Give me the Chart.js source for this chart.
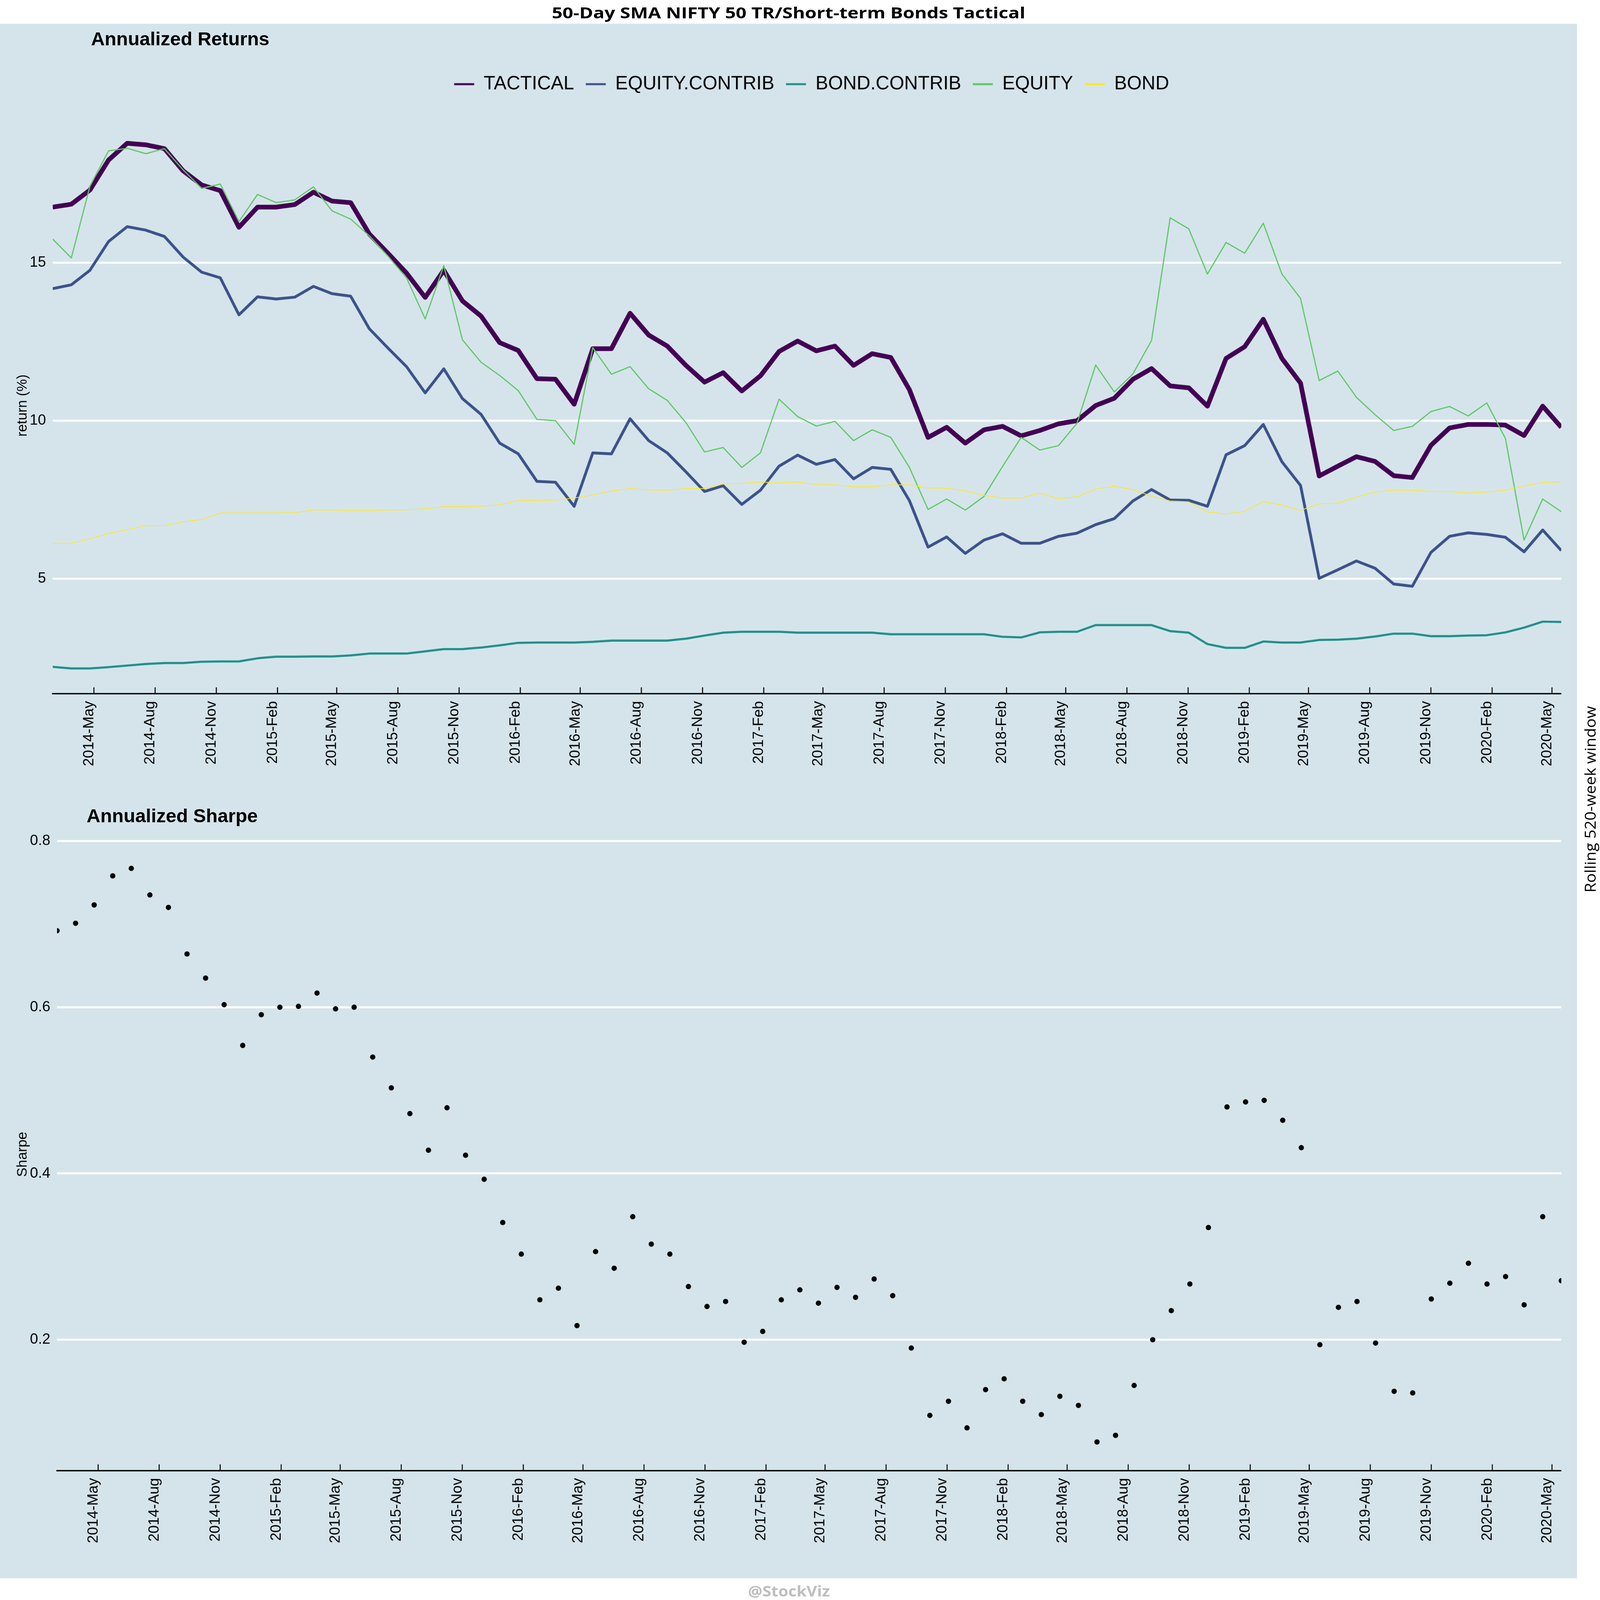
<!DOCTYPE html>
<html>
<head>
<meta charset="utf-8">
<title>50-Day SMA NIFTY 50 TR/Short-term Bonds Tactical</title>
<script src="https://cdn.jsdelivr.net/npm/chart.js@4.4.1/dist/chart.umd.min.js"></script>
<style>
  html, body { margin: 0; padding: 0; background: #fff; overflow: hidden; }
  #root { position: absolute; left: 0; top: 0; width: 4800px; height: 4800px; transform-origin: 0 0; font-family: "Liberation Sans", Arial, sans-serif; }
  #panel { position: absolute; left: 0; top: 71px; width: 4731px; height: 4664px; background: #d5e4eb; }
  canvas { position: absolute; left: 0; }
  .txt { position: absolute; white-space: nowrap; line-height: 1; color: #000; }
  #mainTitle { font-family: "Open Sans", sans-serif; font-weight: 700; font-size: 46px; }
  #sideNote { font-family: "Open Sans", sans-serif; font-size: 44px; }
  #credit { font-family: "Open Sans", sans-serif; font-weight: 700; font-size: 44px; color: #bebebe; }
  .sub { font-family: "Liberation Sans", Arial, sans-serif; font-weight: 700; font-size: 57px; }
</style>
</head>
<body>
<div id="root">
<div id="panel"></div>
<div class="txt" id="mainTitle">50-Day SMA NIFTY 50 TR/Short-term Bonds Tactical</div>
<div class="txt sub" id="subReturns">Annualized Returns</div>
<div class="txt sub" id="subSharpe">Annualized Sharpe</div>
<div class="txt" id="sideNote">Rolling 520-week window</div>
<div class="txt" id="credit">@StockViz</div>
<canvas id="returnsChart" width="4731" height="2330" style="top:71px;width:4731px;height:2330px"></canvas>
<canvas id="sharpeChart" width="4731" height="2334" style="top:2401px;width:4731px;height:2334px"></canvas>
</div>
<script>
// one observation every 4 weeks, first one on 2014-02-28
const firstWeek = Date.UTC(2014, 1, 28) / 864e5;
const stepDays = 28;

const seriesNames = ['TACTICAL', 'EQUITY.CONTRIB', 'BOND.CONTRIB', 'EQUITY', 'BOND'];

const tactical = [16.76, 16.85, 17.30, 18.25, 18.78, 18.73, 18.61, 17.91, 17.46, 17.28, 16.12, 16.76, 16.76,
  16.84, 17.23, 16.95, 16.90, 15.91, 15.30, 14.67, 13.90, 14.76, 13.79, 13.31, 12.47, 12.22,
  11.33, 11.31, 10.52, 12.28, 12.28, 13.40, 12.71, 12.36, 11.75, 11.22, 11.52, 10.94, 11.42, 12.19,
  12.52, 12.21, 12.36, 11.75, 12.12, 12.00, 10.98, 9.47, 9.79, 9.29, 9.71, 9.82, 9.52, 9.69, 9.90,
  10.00, 10.48, 10.71, 11.31, 11.65, 11.10, 11.04, 10.46, 11.97, 12.34, 13.21, 11.97, 11.19, 8.25,
  8.56, 8.86, 8.71, 8.26, 8.20, 9.22, 9.77, 9.88, 9.88, 9.86, 9.53, 10.46, 9.79];

const equityContrib = [14.18, 14.30, 14.76, 15.67, 16.14, 16.03, 15.83, 15.18, 14.70, 14.52, 13.35, 13.92, 13.85,
  13.91, 14.25, 14.02, 13.94, 12.91, 12.30, 11.71, 10.88, 11.64, 10.70, 10.20, 9.29, 8.95,
  8.08, 8.05, 7.29, 8.98, 8.95, 10.06, 9.37, 8.98, 8.38, 7.76, 7.94, 7.35, 7.80, 8.56,
  8.91, 8.62, 8.77, 8.16, 8.52, 8.46, 7.47, 6.00, 6.32, 5.80, 6.22, 6.42, 6.12, 6.12, 6.34,
  6.44, 6.71, 6.90, 7.46, 7.82, 7.49, 7.48, 7.29, 8.92, 9.21, 9.88, 8.70, 7.95, 5.01,
  5.28, 5.56, 5.33, 4.83, 4.76, 5.83, 6.34, 6.45, 6.40, 6.31, 5.85, 6.54, 5.89];

const bondContrib = [2.21, 2.16, 2.16, 2.20, 2.25, 2.30, 2.33, 2.33, 2.37, 2.38, 2.38, 2.48, 2.53,
  2.53, 2.54, 2.54, 2.57, 2.63, 2.63, 2.63, 2.70, 2.77, 2.77, 2.82, 2.89, 2.97,
  2.98, 2.98, 2.98, 3.00, 3.04, 3.04, 3.04, 3.04, 3.10, 3.20, 3.29, 3.32, 3.32, 3.32,
  3.29, 3.29, 3.29, 3.29, 3.29, 3.24, 3.24, 3.24, 3.24, 3.24, 3.24, 3.16, 3.14, 3.30, 3.32,
  3.32, 3.53, 3.53, 3.53, 3.53, 3.34, 3.29, 2.93, 2.81, 2.81, 3.01, 2.98, 2.98, 3.06,
  3.07, 3.10, 3.17, 3.26, 3.26, 3.18, 3.18, 3.20, 3.21, 3.30, 3.45, 3.64, 3.63];

const equity = [15.75, 15.15, 17.42, 18.54, 18.62, 18.45, 18.61, 17.94, 17.35, 17.49, 16.30, 17.16, 16.90,
  16.99, 17.40, 16.64, 16.38, 15.85, 15.21, 14.52, 13.22, 14.91, 12.56, 11.85, 11.43, 10.95,
  10.04, 10.00, 9.25, 12.31, 11.47, 11.71, 11.01, 10.64, 9.94, 9.01, 9.15, 8.52, 8.98, 10.68,
  10.13, 9.83, 9.98, 9.37, 9.71, 9.47, 8.52, 7.19, 7.52, 7.17, 7.60, 8.55, 9.47, 9.07, 9.21,
  9.92, 11.76, 10.91, 11.48, 12.54, 16.42, 16.07, 14.64, 15.64, 15.30, 16.25, 14.64, 13.87, 11.27,
  11.57, 10.74, 10.19, 9.69, 9.82, 10.29, 10.45, 10.15, 10.56, 9.44, 6.22, 7.52, 7.12];

const bond = [6.12, 6.12, 6.26, 6.43, 6.55, 6.68, 6.68, 6.80, 6.87, 7.08, 7.08, 7.08, 7.08,
  7.09, 7.17, 7.17, 7.15, 7.15, 7.17, 7.18, 7.21, 7.28, 7.28, 7.29, 7.34, 7.47,
  7.48, 7.49, 7.55, 7.65, 7.77, 7.85, 7.81, 7.80, 7.85, 7.85, 8.00, 8.01, 8.06, 8.03,
  8.06, 7.98, 7.97, 7.91, 7.91, 7.97, 7.97, 7.87, 7.86, 7.78, 7.64, 7.55, 7.55, 7.71, 7.53,
  7.59, 7.84, 7.92, 7.82, 7.61, 7.46, 7.43, 7.11, 7.05, 7.13, 7.44, 7.33, 7.16, 7.37,
  7.39, 7.59, 7.74, 7.80, 7.80, 7.76, 7.76, 7.71, 7.74, 7.80, 7.94, 8.04, 8.07];

const sharpe = [0.692, 0.701, 0.723, 0.758, 0.767, 0.735, 0.720, 0.664, 0.635, 0.603, 0.554, 0.591, 0.600,
  0.601, 0.617, 0.598, 0.600, 0.540, 0.503, 0.472, 0.428, 0.479, 0.422, 0.393, 0.341, 0.303,
  0.248, 0.262, 0.217, 0.306, 0.286, 0.348, 0.315, 0.303, 0.264, 0.240, 0.246, 0.197, 0.210, 0.248,
  0.260, 0.244, 0.263, 0.251, 0.273, 0.253, 0.190, 0.109, 0.126, 0.094, 0.140, 0.153, 0.126, 0.110, 0.132,
  0.121, 0.077, 0.085, 0.145, 0.200, 0.235, 0.267, 0.335, 0.480, 0.486, 0.488, 0.464, 0.431, 0.194,
  0.239, 0.246, 0.196, 0.138, 0.136, 0.249, 0.268, 0.292, 0.267, 0.276, 0.242, 0.348, 0.271];

const tickLabels = ['2014-May', '2014-Aug', '2014-Nov', '2015-Feb', '2015-May', '2015-Aug', '2015-Nov',
  '2016-Feb', '2016-May', '2016-Aug', '2016-Nov', '2017-Feb', '2017-May', '2017-Aug', '2017-Nov',
  '2018-Feb', '2018-May', '2018-Aug', '2018-Nov', '2019-Feb', '2019-May', '2019-Aug', '2019-Nov',
  '2020-Feb', '2020-May'];
const returnTicks = [5, 10, 15];
const sharpeTicks = [0.2, 0.4, 0.6, 0.8];

// styles, kept apart from the values
const lineColors = ['#440154', '#3b528b', '#21908c', '#5dc863', '#fde725'];
const lineWidths = [14, 8.5, 6.5, 3.5, 2.2];

// the whole layout is built for 4800px; shrink it if the window is smaller
const fit = Math.min(window.innerWidth, window.innerHeight) / 4800;
const root = document.getElementById('root');
if (Math.abs(fit - 1) > 0.002) root.style.transform = 'scale(' + fit + ')';

const months = ['Jan', 'Feb', 'Mar', 'Apr', 'May', 'Jun', 'Jul', 'Aug', 'Sep', 'Oct', 'Nov', 'Dec'];
const weeks = tactical.map((v, i) => firstWeek + i * stepDays);
const tickDays = tickLabels.map(s => {
    const parts = s.split('-');
    return Date.UTC(+parts[0], months.indexOf(parts[1]), 1) / 864e5;
});

const tickFont = { family: 'Liberation Sans', size: 44 };

function xAxis(height) {
    return {
        type: 'linear',
        min: weeks[0],
        max: weeks[weeks.length - 1],
        afterBuildTicks: s => { s.ticks = tickDays.map(v => ({ value: v })); },
        afterFit: s => { s.height = height; },
        grid: { display: false, drawTicks: false },
        border: { display: true, color: '#000', width: 4 },
        ticks: {
            autoSkip: false,
            minRotation: 90,
            maxRotation: 90,
            padding: 22,
            labelOffset: -14,
            color: '#000',
            font: tickFont,
            callback: (v, i) => tickLabels[i]
        }
    };
}

function yAxis(min, max, values, width, title, fmt) {
    return {
        type: 'linear',
        min: min,
        max: max,
        afterBuildTicks: s => { s.ticks = values.map(v => ({ value: v })); },
        afterFit: s => { s.width = width; },
        grid: { color: '#ffffff', lineWidth: 6, drawTicks: false },
        border: { display: false },
        ticks: { padding: 20, color: '#000', font: tickFont, callback: fmt },
        title: {
            display: true,
            text: title,
            color: '#000',
            font: { family: 'Liberation Sans', size: 42 },
            padding: { top: 43, bottom: 0 }
        }
    };
}

// small marks pointing up from the x axis, like the original
const innerTicks = {
    id: 'innerTicks',
    afterDraw(chart) {
        const x = chart.scales.x;
        const ctx = chart.ctx;
        const bottom = chart.chartArea.bottom;
        ctx.save();
        ctx.strokeStyle = '#000';
        ctx.lineWidth = 3;
        x.ticks.forEach(t => {
            const px = x.getPixelForValue(t.value);
            ctx.beginPath();
            ctx.moveTo(px, bottom);
            ctx.lineTo(px, bottom - 19);
            ctx.stroke();
        });
        ctx.restore();
    }
};

// extra room under the legend, and a small nudge to the right
const legendGap = {
    id: 'legendGap',
    beforeInit(chart) {
        const legend = chart.legend;
        const fitLegend = legend.fit;
        const drawLegend = legend.draw;
        legend.fit = function () {
            fitLegend.call(this);
            this.height += 61;
        };
        legend.draw = function () {
            const ctx = this.ctx;
            ctx.save();
            ctx.translate(14, 0);
            drawLegend.call(this);
            ctx.restore();
        };
    }
};

Chart.defaults.font.family = 'Liberation Sans';
Chart.defaults.color = '#000';

const returnSeries = [tactical, equityContrib, bondContrib, equity, bond];

new Chart(document.getElementById('returnsChart'), {
    type: 'line',
    data: {
        datasets: returnSeries.map((vals, i) => ({
            label: seriesNames[i],
            data: vals.map((v, j) => ({ x: weeks[j], y: v })),
            borderColor: lineColors[i],
            backgroundColor: lineColors[i],
            borderWidth: lineWidths[i],
            borderJoinStyle: 'round',
            pointRadius: 0,
            tension: 0,
            clip: 0,
            order: seriesNames.length - i
        }))
    },
    options: {
        responsive: false,
        devicePixelRatio: 1,
        animation: false,
        events: [],
        layout: { padding: { top: 118, right: 39, bottom: 0, left: 0 } },
        scales: {
            x: xAxis(320),
            y: yAxis(1.36, 19.6, returnTicks, 158, 'return (%)', v => String(v))
        },
        plugins: {
            tooltip: { enabled: false },
            title: { display: false },
            legend: {
                display: true,
                position: 'top',
                fullSize: false,
                labels: {
                    usePointStyle: true,
                    pointStyleWidth: 60,
                    padding: 35,
                    color: '#000',
                    font: { family: 'Liberation Sans', size: 57 },
                    generateLabels: () => seriesNames.map((name, i) => ({
                        text: name,
                        fillStyle: lineColors[i],
                        strokeStyle: lineColors[i],
                        lineWidth: 6,
                        pointStyle: 'line',
                        hidden: false,
                        datasetIndex: i
                    }))
                }
            }
        }
    },
    plugins: [innerTicks, legendGap]
});

new Chart(document.getElementById('sharpeChart'), {
    type: 'scatter',
    data: {
        datasets: [{
            label: 'Sharpe',
            data: sharpe.map((v, j) => ({ x: weeks[j], y: v })),
            pointRadius: 8,
            pointBackgroundColor: '#000',
            pointBorderWidth: 0,
            clip: 0
        }]
    },
    options: {
        responsive: false,
        devicePixelRatio: 1,
        animation: false,
        events: [],
        layout: { padding: { top: 113, right: 39, bottom: 0, left: 0 } },
        scales: {
            x: xAxis(323),
            y: yAxis(0.0425, 0.8035, sharpeTicks, 171, 'Sharpe', v => v.toFixed(1))
        },
        plugins: {
            tooltip: { enabled: false },
            legend: { display: false }
        }
    },
    plugins: [innerTicks]
});

// free text around the two panels
function centerText(id, cx, cy, targetWidth, rotate) {
    const el = document.getElementById(id);
    const w = el.offsetWidth, h = el.offsetHeight;
    el.style.left = (cx - w / 2) + 'px';
    el.style.top = (cy - h / 2) + 'px';
    const sx = targetWidth ? targetWidth / w : 1;
    el.style.transform = (rotate ? 'rotate(-90deg) ' : '') + 'scaleX(' + sx + ')';
}
function leftText(id, x, cy) {
    const el = document.getElementById(id);
    el.style.left = x + 'px';
    el.style.top = (cy - el.offsetHeight / 2) + 'px';
}
centerText('mainTitle', 2365, 37, 1420, false);
centerText('sideNote', 4770, 2398, 560, true);
centerText('credit', 2366, 4772, 245, false);
leftText('subReturns', 273, 116);
leftText('subSharpe', 260, 2447);
</script>
</body>
</html>
